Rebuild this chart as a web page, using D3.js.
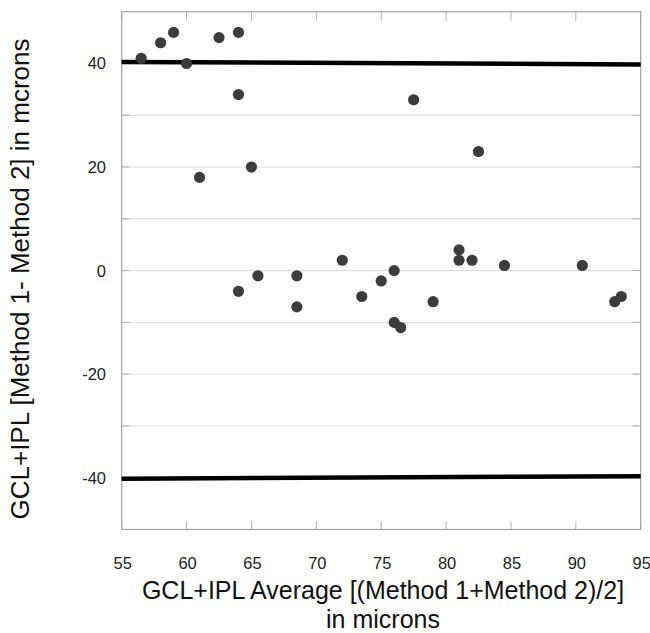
<!DOCTYPE html>
<html><head><meta charset="utf-8">
<script src="https://cdn.jsdelivr.net/npm/d3@7"></script>
<style>html,body{margin:0;padding:0;background:#fff;}svg{display:block;}</style>
</head><body>
<svg id="chart" width="650" height="633"></svg>
<script>
// Data
const avgValues  = [56.5, 58, 59, 60, 62.5, 64, 64, 65, 61, 64, 65.5, 68.5, 68.5, 72, 73.5, 75, 76, 76, 76.5, 79, 81, 81, 82, 84.5, 90.5, 93, 93.5, 77.5, 82.5];
const diffValues = [41, 44, 46, 40, 45, 46, 34, 20, 18, -4, -1, -1, -7, 2, -5, -2, 0, -10, -11, -6, 4, 2, 2, 1, 1, -6, -5, 33, 23];
const xTicks = [55, 60, 65, 70, 75, 80, 85, 90, 95];
const yTickLabels = [40, 20, 0, -20, -40];
const yGrid = [-30, -20, -10, 0, 10, 20, 30];
const upperLimit = [40.3, 39.8];   // left, right end
const lowerLimit = [-40.2, -39.7];
const xDomain = [55, 95];
const yDomain = [-50, 50];
const xTitleLines = ["GCL+IPL Average [(Method 1+Method 2)/2]", "in microns"];
const yTitle = "GCL+IPL [Method 1- Method 2] in mcrons";

const svg = d3.select("#chart");
const L = 121.7, R = 640.7, T = 11.7, B = 529.5;
const x = d3.scaleLinear().domain(xDomain).range([L, R]);
const y = d3.scaleLinear().domain(yDomain).range([B, T]);
const font = "'Liberation Sans', Arial, sans-serif";

// gridlines
svg.append("g").selectAll("line").data(yGrid).join("line")
  .attr("x1", L).attr("x2", R).attr("y1", d => y(d)).attr("y2", d => y(d))
  .attr("stroke", "#d9d9d9").attr("stroke-width", 1);

// y ticks inside on left and right (at every 10)
const yTickAll = d3.range(-40, 41, 10);
svg.append("g").selectAll("line").data(yTickAll).join("line")
  .attr("x1", L).attr("x2", L + 8).attr("y1", d => y(d)).attr("y2", d => y(d))
  .attr("stroke", "#b0b0b0");
svg.append("g").selectAll("line").data(yTickAll).join("line")
  .attr("x1", R - 8).attr("x2", R).attr("y1", d => y(d)).attr("y2", d => y(d))
  .attr("stroke", "#b0b0b0");

// x ticks inside on bottom and top
svg.append("g").selectAll("line").data(xTicks).join("line")
  .attr("x1", d => x(d)).attr("x2", d => x(d)).attr("y1", B).attr("y2", B - 8)
  .attr("stroke", "#b0b0b0");
svg.append("g").selectAll("line").data(xTicks).join("line")
  .attr("x1", d => x(d)).attr("x2", d => x(d)).attr("y1", T).attr("y2", T + 9)
  .attr("stroke", "#b0b0b0");

// frame
svg.append("rect").attr("x", L).attr("y", T).attr("width", R - L).attr("height", B - T)
  .attr("fill", "none").attr("stroke", "#a3a3a3").attr("stroke-width", 1.2);

// limits of agreement
[upperLimit, lowerLimit].forEach(lim => {
  svg.append("line")
    .attr("x1", x(xDomain[0])).attr("x2", x(xDomain[1]))
    .attr("y1", y(lim[0])).attr("y2", y(lim[1]))
    .attr("stroke", "#000").attr("stroke-width", 4.5);
});

// tick labels
svg.append("g").selectAll("text").data(xTicks).join("text")
  .attr("x", d => x(d) + 1).attr("y", 568.5)
  .attr("text-anchor", "middle").attr("font-family", font).attr("font-size", 16.5)
  .attr("fill", "#222").text(d => d);
svg.append("g").selectAll("text").data(yTickLabels).join("text")
  .attr("x", 106).attr("y", d => y(d) + 6)
  .attr("text-anchor", "end").attr("font-family", font).attr("font-size", 16.5)
  .attr("fill", "#222").text(d => d);

// points
const pts = avgValues.map((a, i) => ({a, d: diffValues[i]}));
svg.append("g").selectAll("circle").data(pts).join("circle")
  .attr("cx", d => x(d.a)).attr("cy", d => y(d.d)).attr("r", 5.6)
  .attr("fill", "#3c3c3c");

// axis titles
svg.append("g").selectAll("text").data(xTitleLines).join("text")
  .attr("x", 383).attr("y", (d, i) => 599 + i * 29)
  .attr("text-anchor", "middle").attr("font-family", font).attr("font-size", 25)
  .attr("fill", "#111").text(d => d);
svg.append("text")
  .attr("transform", `translate(29,${279}) rotate(-90)`)
  .attr("text-anchor", "middle").attr("font-family", font).attr("font-size", 26)
  .attr("fill", "#111").text(yTitle);
</script>
</body></html>
